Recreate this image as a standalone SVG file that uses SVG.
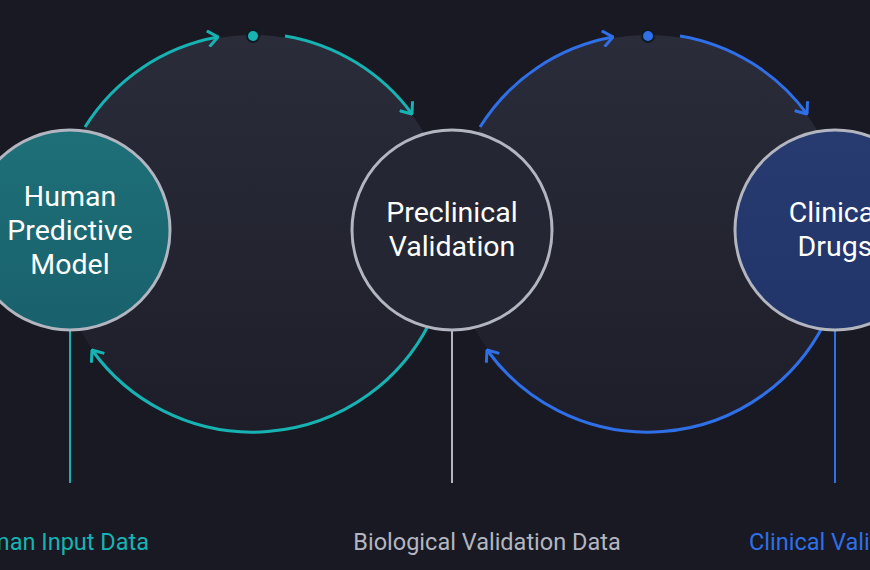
<svg xmlns="http://www.w3.org/2000/svg" width="870" height="570" viewBox="0 0 870 570">
<defs>
<style>
.ring{fill:url(#rg)}
.arc{fill:none;stroke-width:3}
.t{stroke:#17b3b3}
.b{stroke:#2f6fe8}
.node{stroke:#b3b6c0;stroke-width:3}
.nt{font-family:Roboto,"Liberation Sans",sans-serif;font-size:28.5px;fill:#fff;text-anchor:middle}
.lb{font-family:Roboto,"Liberation Sans",sans-serif;font-size:23.5px}
</style>
<linearGradient id="rg" x1="0" y1="0" x2="0" y2="1"><stop offset="0" stop-color="#2b2c3a"/><stop offset="1" stop-color="#1d1e29"/></linearGradient>
<linearGradient id="tg" x1="0" y1="0" x2="0" y2="1"><stop offset="0" stop-color="#1e7078"/><stop offset="1" stop-color="#19616c"/></linearGradient>
<linearGradient id="bg" x1="0" y1="0" x2="0" y2="1"><stop offset="0" stop-color="#273b70"/><stop offset="1" stop-color="#21356a"/></linearGradient>
<marker id="mt" viewBox="0 0 12 18" refX="11" refY="9" markerWidth="12" markerHeight="18" markerUnits="userSpaceOnUse" orient="auto"><path d="M1,1 L11,9 L1,17" fill="none" stroke="#17b3b3" stroke-width="3"/></marker>
<marker id="mb" viewBox="0 0 12 18" refX="11" refY="9" markerWidth="12" markerHeight="18" markerUnits="userSpaceOnUse" orient="auto"><path d="M1,1 L11,9 L1,17" fill="none" stroke="#2f6fe8" stroke-width="3"/></marker>
</defs>
<rect width="870" height="570" fill="#181922"/>
<circle class="ring" cx="253" cy="233" r="198"/>
<circle class="ring" cx="648" cy="233" r="198"/>
<g id="connectors">
<path class="arc t" d="M85,127 A198,198 0 0 1 218,37" marker-end="url(#mt)"/>
<path class="arc t" d="M285,36 A198,198 0 0 1 412,114" marker-end="url(#mt)"/>
<path class="arc t" d="M429,324 A198,198 0 0 1 92,350" marker-end="url(#mt)"/>
<path class="arc b" d="M480,127 A198,198 0 0 1 613,37" marker-end="url(#mb)"/>
<path class="arc b" d="M680,36 A198,198 0 0 1 807,114" marker-end="url(#mb)"/>
<path class="arc b" d="M824,324 A198,198 0 0 1 487,350" marker-end="url(#mb)"/>
<circle cx="253" cy="36" r="6" fill="#17b3b3" stroke="#0f1a22" stroke-width="2"/>
<circle cx="648" cy="36" r="6" fill="#2f6fe8" stroke="#0f1a22" stroke-width="2"/>
<line x1="70" y1="331" x2="70" y2="483" stroke="#17b3b3" stroke-width="2"/>
<line x1="452" y1="331" x2="452" y2="483" stroke="#b3b6c0" stroke-width="2"/>
<line x1="835" y1="331" x2="835" y2="483" stroke="#2f6fe8" stroke-width="2"/>
</g>
<g id="human">
<circle class="node" cx="70" cy="230" r="100" fill="url(#tg)"/>
<text class="nt" x="70" y="206">Human</text>
<text class="nt" x="70" y="240">Predictive</text>
<text class="nt" x="70" y="274">Model</text>
</g>
<g id="preclinical">
<circle class="node" cx="452" cy="230" r="100" fill="#252633"/>
<text class="nt" x="452" y="222">Preclinical</text>
<text class="nt" x="452" y="256">Validation</text>
</g>
<g id="clinical">
<circle class="node" cx="835" cy="230" r="100" fill="url(#bg)"/>
<text class="nt" x="835" y="222">Clinical</text>
<text class="nt" x="835" y="256">Drugs</text>
</g>
<g id="labels">
<text class="lb" x="149" y="550" text-anchor="end" fill="#17b3b3">Human Input Data</text>
<text class="lb" x="487" y="550" text-anchor="middle" fill="#b3b6c0">Biological Validation Data</text>
<text class="lb" x="749" y="550" fill="#2f6fe8">Clinical Validation Data</text>
</g>
</svg>
